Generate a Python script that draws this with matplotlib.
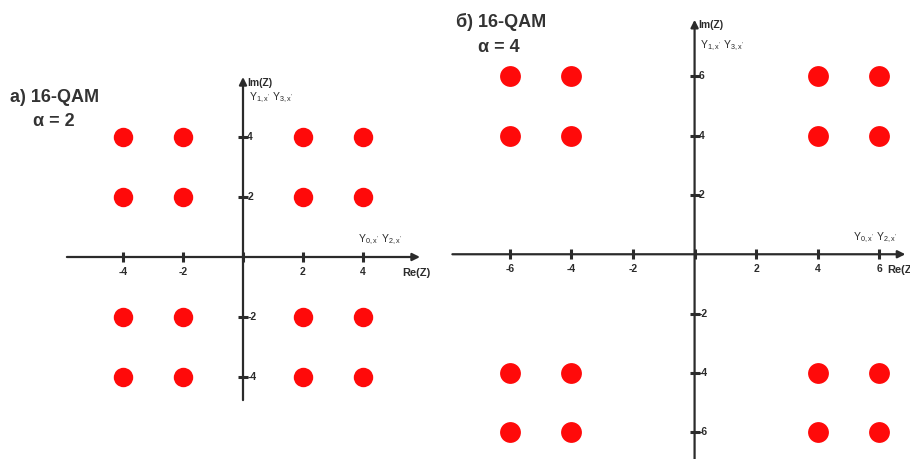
import matplotlib.pyplot as plt

plt.rcParams['font.family'] = ['Liberation Sans', 'DejaVu Sans']

# constellation levels (Re and Im) per panel
levels_a = [-4, -2, 2, 4]
levels_b = [-6, -4, 4, 6]
ticks_a = [-4, -2, 2, 4]
ticks_b = [-6, -4, -2, 2, 4, 6]

W, H = 910, 459
AXIS_COLOR = '#2b2b2b'
DOT_COLOR = '#ff0a0a'


def px_axes(fig, x0, y0, x1, y1):
    """Axes spanning pixel box (x0, y0)-(x1, y1), y measured from the top."""
    return fig.add_axes([x0 / W, 1 - y1 / H, (x1 - x0) / W, (y1 - y0) / H])


def draw_panel(ax, levels, ticks, xr, yr, ms, im_off, re_off):
    ax.set_xlim(*xr[:2])
    ax.set_ylim(*yr[:2])
    ax.axis('off')

    # axes with arrow heads
    arrow = dict(arrowstyle='-|>', color=AXIS_COLOR, lw=1.6,
                 mutation_scale=11, shrinkA=0, shrinkB=0)
    ax.annotate('', xy=(xr[3], 0), xytext=(xr[2], 0), arrowprops=arrow)
    ax.annotate('', xy=(0, yr[3]), xytext=(0, yr[2]), arrowprops=arrow)

    # tick marks
    ax.plot(ticks + [0], [0] * (len(ticks) + 1), ls='none', marker='|',
            ms=7, mew=2.2, color=AXIS_COLOR)
    ax.plot([0] * len(ticks), ticks, ls='none', marker='_',
            ms=7, mew=2.2, color=AXIS_COLOR)

    for t in ticks:
        ax.annotate(f'{t}', (t, 0), xytext=(0, -7), textcoords='offset points',
                    ha='center', va='top', fontsize=7.5, fontweight='bold',
                    color=AXIS_COLOR)
        ax.annotate(f'{t}', (0, t), xytext=(3, 0), textcoords='offset points',
                    ha='left', va='center', fontsize=7.5, fontweight='bold',
                    color=AXIS_COLOR)

    # constellation dots
    for re in levels:
        for im in levels:
            ax.plot(re, im, 'o', ms=ms, color=DOT_COLOR, mec='none')

    # axis annotations
    ax.annotate('Im(Z)', (0, yr[3]), xytext=(3, -4), textcoords='offset points',
                ha='left', va='center', fontsize=7.5, fontweight='bold',
                color=AXIS_COLOR)
    ax.annotate(r"$\mathregular{Y_{1,x'}\ Y_{3,x'}}$", (0, yr[3]),
                xytext=(4, im_off), textcoords='offset points', ha='left',
                va='center', fontsize=7.5, color=AXIS_COLOR)
    ax.annotate(r"$\mathregular{Y_{0,x'}\ Y_{2,x'}}$", (xr[3], 0),
                xytext=(re_off, 7), textcoords='offset points', ha='right',
                va='bottom', fontsize=7.5, color=AXIS_COLOR)
    ax.annotate('Re(Z)', (xr[3], 0), xytext=(-13, -8), textcoords='offset points',
                ha='left', va='top', fontsize=8, fontweight='bold',
                color=AXIS_COLOR)


fig = plt.figure(figsize=(W / 100, H / 100), dpi=100)

# left panel: origin (243, 257) px, 30 px per unit
ax_a = px_axes(fig, 63, 62, 438, 422)
draw_panel(ax_a, levels_a, ticks_a, xr=(-6.0, 6.5, -5.87, 5.9),
           yr=(-5.5, 6.5, -4.77, 6.0), ms=14, im_off=-15, re_off=-13)

# right panel: origin (695, 254) px, ~30.7 x 29.7 px per unit
ax_b = px_axes(fig, 449, 2, 910, 462)
draw_panel(ax_b, levels_b, ticks_b, xr=(-7.98, 7.0, -7.87, 6.85),
           yr=(-7.0, 8.5, -6.95, 7.9), ms=15, im_off=-19, re_off=-6)

title_kw = dict(fontsize=13, fontweight='bold', color='#333333',
                va='center', ha='left')
fig.text(10 / W, 1 - 97 / H, 'a) 16-QAM', **title_kw)
fig.text(33 / W, 1 - 121 / H, 'α = 2', **title_kw)
fig.text(456 / W, 1 - 22 / H, 'б) 16-QAM', **title_kw)
fig.text(478 / W, 1 - 47 / H, 'α = 4', **title_kw)

fig.savefig('out.png', dpi=100)
